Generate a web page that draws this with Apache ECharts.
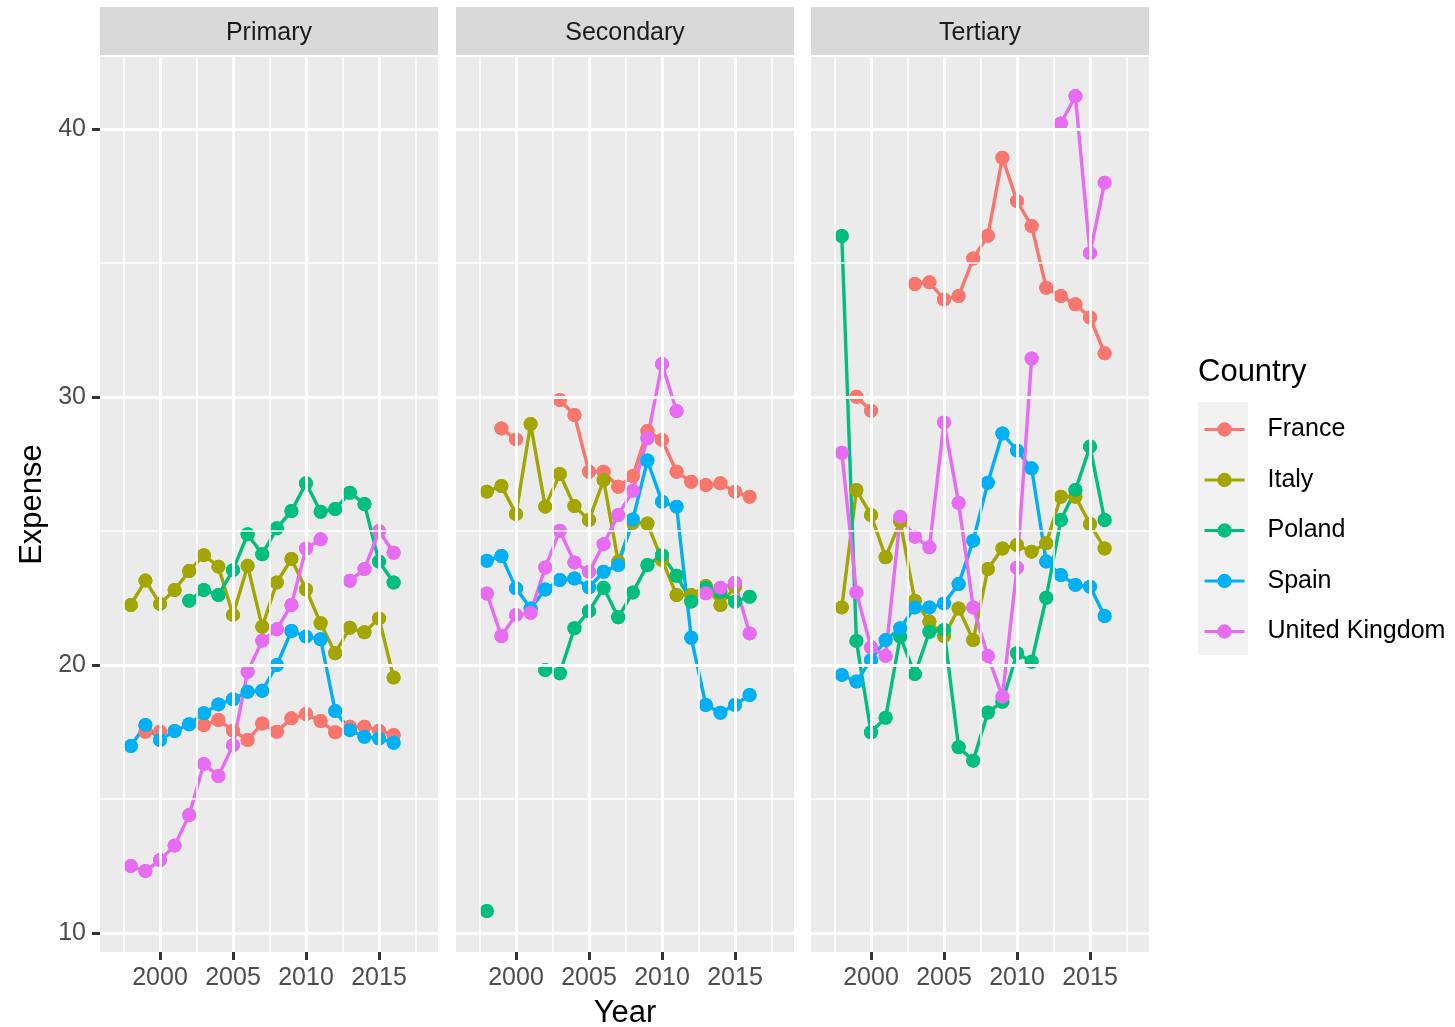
<!DOCTYPE html>
<html>
<head>
<meta charset="utf-8">
<title>Expense by education level</title>
<script src="https://cdn.jsdelivr.net/npm/echarts@6/dist/echarts.min.js"></script>
<style>
  html, body { margin: 0; padding: 0; background: #ffffff; }
  #chart { width: 1455px; height: 1027px; }
</style>
</head>
<body>
<div id="chart"></div>
<script>
// Facet levels, countries and their colours
const levels = ['Primary', 'Secondary', 'Tertiary'];
const countries = ['France', 'Italy', 'Poland', 'Spain', 'United Kingdom'];
const colors = ['#F8766D', '#A3A500', '#00BF7D', '#00B0F6', '#E76BF3'];

// Years on the x axis
const years = [1998, 1999, 2000, 2001, 2002, 2003, 2004, 2005, 2006, 2007,
               2008, 2009, 2010, 2011, 2012, 2013, 2014, 2015, 2016];

// Tick labels and grid breaks
const xTicks = [2000, 2005, 2010, 2015];
const xMinor = [1997.5, 2002.5, 2007.5, 2012.5, 2017.5];
const yTicks = [10, 20, 30, 40];
const yMinor = [15, 25, 35];

// Expense, Primary
const primaryFrance = [null, 17.51, 17.51, null, null, 17.76, 17.95, 17.55, 17.20, 17.82, 17.51, 18.01, 18.17, 17.91, 17.49, 17.70, 17.70, 17.55, 17.39];
const primaryItaly  = [22.24, 23.15, 22.28, 22.80, 23.51, 24.10, 23.67, 21.87, 23.70, 21.43, 23.08, 23.96, 22.82, 21.56, 20.44, 21.39, 21.22, 21.74, 19.53];
const primaryPoland = [null, null, null, null, 22.40, 22.80, 22.61, 23.54, 24.88, 24.13, 25.10, 25.75, 26.78, 25.72, 25.82, 26.43, 26.01, 23.86, 23.08];
const primarySpain  = [16.98, 17.76, 17.20, 17.54, 17.79, 18.20, 18.53, 18.72, 19.00, 19.04, 20.00, 21.27, 21.06, 20.96, 18.28, 17.57, 17.32, 17.26, 17.10];
const primaryUK     = [12.50, 12.31, 12.72, 13.26, 14.40, 16.31, 15.86, 17.01, 19.75, 20.91, 21.33, 22.24, 24.35, 24.69, null, 23.14, 23.58, 25.00, 24.19];

// Expense, Secondary
const secondaryFrance = [null, 28.83, 28.42, null, null, 29.89, 29.33, 27.21, 27.21, 26.65, 27.05, 28.73, 28.40, 27.21, 26.84, 26.72, 26.78, 26.47, 26.28];
const secondaryItaly  = [26.47, 26.68, 25.63, 28.99, 25.91, 27.13, 25.93, 25.41, 26.90, 23.86, 25.31, 25.28, 23.92, 22.61, 22.61, 22.95, 22.24, 22.92, null];
const secondaryPoland = [10.82, null, null, null, 19.81, 19.69, 21.37, 22.01, 22.88, 21.78, 22.71, 23.73, 24.10, 23.33, 22.37, 22.88, 22.72, 22.36, 22.55];
const secondarySpain  = [23.89, 24.07, 22.86, 22.11, 22.82, 23.17, 23.23, 22.90, 23.48, 23.73, 25.43, 27.63, 26.09, 25.91, 21.02, 18.51, 18.22, 18.51, 18.88];
const secondaryUK     = [22.67, 21.08, 21.87, 21.95, 23.64, 25.01, 23.83, 23.48, 24.51, 25.60, 26.50, 28.46, 31.23, 29.48, null, 22.68, 22.88, 23.07, 21.18];

// Expense, Tertiary
const tertiaryFrance = [null, 30.01, 29.49, null, null, 34.22, 34.28, 33.64, 33.77, 35.17, 36.02, 38.93, 37.31, 36.38, 34.08, 33.77, 33.46, 32.97, 31.63];
const tertiaryItaly  = [22.15, 26.53, 25.60, 24.02, 25.35, 22.40, 21.62, 21.08, 22.11, 20.93, 23.58, 24.35, 24.48, 24.23, 24.54, 26.28, 26.28, 25.26, 24.35];
const tertiaryPoland = [36.01, 20.90, 17.49, 18.03, 21.06, 19.66, 21.24, 21.31, 16.93, 16.43, 18.23, 18.63, 20.44, 20.12, 22.51, 25.41, 26.53, 28.15, 25.41];
const tertiarySpain  = [19.63, 19.38, 20.19, 20.93, 21.37, 22.15, 22.15, 22.30, 23.02, 24.64, 26.80, 28.64, 28.00, 27.34, 23.86, 23.36, 22.99, 22.92, 21.83];
const tertiaryUK     = [27.92, 22.71, 20.66, 20.34, 25.53, 24.79, 24.39, 29.05, 26.05, 22.15, 20.34, 18.82, 23.63, 31.44, null, 40.21, 41.23, 35.37, 38.00];

const expense = [
  [primaryFrance, primaryItaly, primaryPoland, primarySpain, primaryUK],
  [secondaryFrance, secondaryItaly, secondaryPoland, secondarySpain, secondaryUK],
  [tertiaryFrance, tertiaryItaly, tertiaryPoland, tertiarySpain, tertiaryUK]
];

const FONT = '"Liberation Sans", Arial, Helvetica, sans-serif';
const panelLefts = [100, 456, 811];
const panelTop = 57;
const panelW = 338;
const panelH = 895;
const X_MIN = 1995.89, X_MAX = 2019.04;
const Y_MIN = 9.29, Y_MAX = 42.69;
const LINE_W = 3.4;
const POINT_SIZE = 14;

const grids = [], xAxes = [], yAxes = [], series = [], graphics = [];

levels.forEach((level, p) => {
  grids.push({
    left: panelLefts[p], top: panelTop, width: panelW, height: panelH,
    show: true, backgroundColor: '#EBEBEB', borderWidth: 0,
    containLabel: false, outerBoundsMode: 'none'
  });
  xAxes.push({
    type: 'value', gridIndex: p, min: X_MIN, max: X_MAX,
    name: p === 1 ? 'Year' : '',
    nameLocation: 'middle', nameGap: 46,
    nameTextStyle: { fontSize: 31, color: '#000', fontFamily: FONT },
    axisLine: { show: false },
    splitLine: { show: false },
    axisTick: { show: true, customValues: xTicks, length: 8, lineStyle: { color: '#333333', width: 3 } },
    axisLabel: {
      show: true, customValues: xTicks, margin: 14, fontSize: 25, color: '#4D4D4D', fontFamily: FONT,
      formatter: v => String(Math.round(v))
    }
  });
  yAxes.push({
    type: 'value', gridIndex: p, min: Y_MIN, max: Y_MAX,
    name: p === 0 ? 'Expense' : '',
    nameLocation: 'middle', nameGap: 52, nameRotate: 90,
    nameTextStyle: { fontSize: 31, color: '#000', fontFamily: FONT },
    axisLine: { show: false },
    splitLine: { show: false },
    axisTick: { show: p === 0, customValues: yTicks, length: 8, lineStyle: { color: '#333333', width: 3 } },
    axisLabel: {
      show: p === 0, customValues: yTicks, margin: 14, fontSize: 25, color: '#4D4D4D', fontFamily: FONT,
      formatter: v => String(Math.round(v))
    }
  });

  // panel grid lines
  const gridLines = [];
  xMinor.forEach(v => gridLines.push({ xAxis: v, lineStyle: { width: 1.5 } }));
  yMinor.forEach(v => gridLines.push({ yAxis: v, lineStyle: { width: 1.5 } }));
  xTicks.forEach(v => gridLines.push({ xAxis: v, lineStyle: { width: 3 } }));
  yTicks.forEach(v => gridLines.push({ yAxis: v, lineStyle: { width: 3 } }));
  series.push({
    type: 'line', xAxisIndex: p, yAxisIndex: p, data: [], silent: true, z: 1,
    markLine: {
      silent: true, symbol: 'none', animation: false,
      label: { show: false },
      emphasis: { disabled: true },
      lineStyle: { color: '#FFFFFF', type: 'solid' },
      data: gridLines
    }
  });

  // facet strip
  graphics.push({
    type: 'rect', z: 0,
    shape: { x: panelLefts[p], y: 7, width: panelW, height: 48 },
    style: { fill: '#D9D9D9' }
  });
  graphics.push({
    type: 'text', z: 1,
    x: panelLefts[p] + panelW / 2, y: 33,
    style: {
      text: level, fill: '#1A1A1A', fontSize: 25, fontFamily: FONT,
      align: 'center', verticalAlign: 'middle', textAlign: 'center', textVerticalAlign: 'middle'
    }
  });
});

// lines (with points) per panel and country
levels.forEach((level, p) => {
  countries.forEach((c, k) => {
    series.push({
      type: 'line', name: c, xAxisIndex: p, yAxisIndex: p, z: 2,
      data: years.map((yr, i) => [yr, expense[p][k][i] == null ? '-' : expense[p][k][i]]),
      symbol: 'circle', symbolSize: POINT_SIZE, showSymbol: true, showAllSymbol: true,
      connectNulls: false, silent: true,
      lineStyle: { width: LINE_W, color: colors[k] },
      itemStyle: { color: colors[k] },
      emphasis: { disabled: true }
    });
  });
});
// points drawn above every line
levels.forEach((level, p) => {
  countries.forEach((c, k) => {
    series.push({
      type: 'scatter', name: c, xAxisIndex: p, yAxisIndex: p, z: 3,
      data: years.map((yr, i) => [yr, expense[p][k][i]]).filter(d => d[1] != null),
      symbol: 'circle', symbolSize: POINT_SIZE, silent: true,
      itemStyle: { color: colors[k], opacity: 1 },
      emphasis: { disabled: true }
    });
  });
});

// legend key background
graphics.push({
  type: 'rect', z: 0,
  shape: { x: 1198, y: 402, width: 50, height: 253 },
  style: { fill: '#F2F2F2' }
});

const chart = echarts.init(document.getElementById('chart'), null, { renderer: 'canvas' });
chart.setOption({
  animation: false,
  backgroundColor: '#FFFFFF',
  textStyle: { fontFamily: FONT },
  title: {
    text: 'Country', left: 1198, top: 357, padding: 0,
    textStyle: { fontSize: 31, fontWeight: 'normal', color: '#000', fontFamily: FONT }
  },
  legend: {
    data: countries, orient: 'vertical', left: 1203, top: 417,
    itemWidth: 40, itemHeight: 18, itemGap: 25.5, selectedMode: false, z: 10,
    padding: 0,
    lineStyle: { width: 3 },
    textStyle: { fontSize: 25, color: '#000', fontFamily: FONT, padding: [0, 0, 0, 18] }
  },
  grid: grids,
  xAxis: xAxes,
  yAxis: yAxes,
  series: series,
  graphic: graphics
});
</script>
</body>
</html>
